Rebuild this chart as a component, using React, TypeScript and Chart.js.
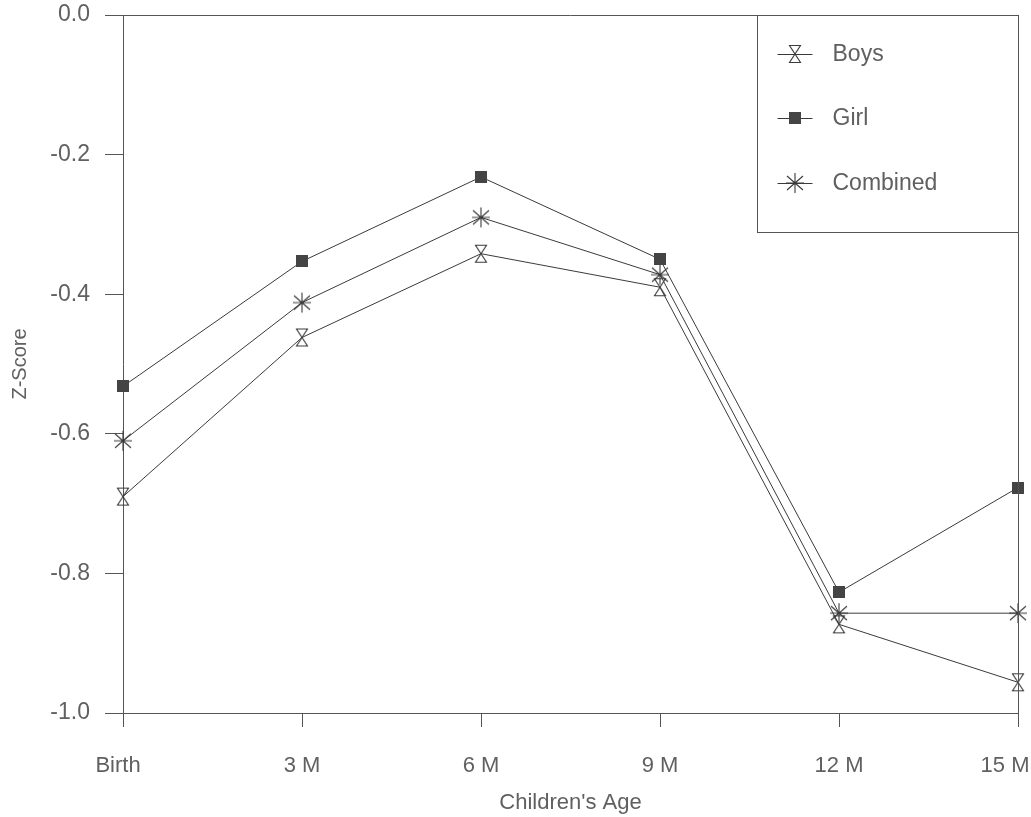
import React, { useEffect, useRef } from 'react';
import { Chart, registerables } from 'chart.js';

Chart.register(...registerables);

// ---- data ----
const ageLabels = ['Birth', '3 M', '6 M', '9 M', '12 M', '15 M'];
const boysZ = [-0.69, -0.462, -0.342, -0.39, -0.873, -0.956];
const girlZ = [-0.532, -0.353, -0.232, -0.35, -0.827, -0.677];
const combinedZ = [-0.61, -0.412, -0.29, -0.372, -0.857, -0.857];
const seriesNames = ['Boys', 'Girl', 'Combined'];
const yMin = -1.0;
const yMax = 0.0;
const yStep = 0.2;
const xTitle = "Children's Age";
const yTitle = 'Z-Score';

const INK = '#3a3a3a';
const AXIS = '#555';
const TEXT = '#606060';
const FONT = "'Liberation Sans', Arial, Helvetica, sans-serif";

function makeHourglass(): HTMLCanvasElement {
  const c = document.createElement('canvas');
  c.width = 14;
  c.height = 20;
  const g = c.getContext('2d')!;
  g.strokeStyle = INK;
  g.lineWidth = 1.1;
  g.beginPath();
  g.moveTo(1.5, 1.5);
  g.lineTo(12.5, 1.5);
  g.lineTo(7, 10);
  g.closePath();
  g.moveTo(7, 10);
  g.lineTo(1.5, 18.5);
  g.lineTo(12.5, 18.5);
  g.closePath();
  g.stroke();
  return c;
}

function makeAsterisk(): HTMLCanvasElement {
  const c = document.createElement('canvas');
  c.width = 20;
  c.height = 22;
  const g = c.getContext('2d')!;
  g.strokeStyle = INK;
  g.lineWidth = 1.1;
  g.beginPath();
  g.moveTo(10, 1);
  g.lineTo(10, 21);
  g.moveTo(2, 4);
  g.lineTo(18, 18);
  g.moveTo(18, 4);
  g.lineTo(2, 18);
  g.moveTo(1, 11);
  g.lineTo(19, 11);
  g.stroke();
  return c;
}

function makeSquare(): HTMLCanvasElement {
  const c = document.createElement('canvas');
  c.width = 12;
  c.height = 12;
  const g = c.getContext('2d')!;
  g.fillStyle = '#444';
  g.fillRect(0, 0, 12, 12);
  return c;
}

// keep the last x label inside the canvas, as in the reference
const lastLabelInside = {
  id: 'lastLabelInside',
  beforeDraw(chart: any) {
    const sx = chart.scales.x;
    const items = sx.getLabelItems(chart.chartArea);
    if (items && items.length) {
      const last = items[items.length - 1];
      last.options.translation = [last.options.translation[0] - 13, last.options.translation[1]];
      const first = items[0];
      first.options.translation = [first.options.translation[0] - 5, first.options.translation[1]];
    }
  },
};

const boxLegend = {
  id: 'boxLegend',
  afterDraw(chart: any) {
    const { ctx, chartArea } = chart;
    ctx.save();
    ctx.strokeStyle = AXIS;
    ctx.lineWidth = 1;
    ctx.beginPath();
    ctx.moveTo(chartArea.left, Math.round(chartArea.top) + 0.5);
    ctx.lineTo(chartArea.right, Math.round(chartArea.top) + 0.5);
    ctx.moveTo(Math.round(chartArea.right) + 0.5, chartArea.top);
    ctx.lineTo(Math.round(chartArea.right) + 0.5, chartArea.bottom);
    ctx.stroke();

    const bw = 261;
    const bh = 217;
    const bx = Math.round(chartArea.right) - bw + 0.5;
    const by = Math.round(chartArea.top) + 0.5;
    ctx.fillStyle = '#fff';
    ctx.fillRect(bx, by, bw, bh);
    ctx.strokeRect(bx, by, bw, bh);

    ctx.font = `23px ${FONT}`;
    ctx.textBaseline = 'middle';
    ctx.textAlign = 'left';
    chart.data.datasets.forEach((ds: any, i: number) => {
      const y = Math.round(by + 38 + i * 64.5);
      ctx.strokeStyle = INK;
      ctx.lineWidth = 1;
      ctx.beginPath();
      ctx.moveTo(bx + 20, y + 0.5);
      ctx.lineTo(bx + 55, y + 0.5);
      ctx.stroke();
      const img = ds.pointStyle as HTMLCanvasElement;
      ctx.drawImage(img, Math.round(bx + 37 - img.width / 2), Math.round(y - img.height / 2));
      ctx.fillStyle = TEXT;
      ctx.fillText(ds.label, bx + 75, y + 1);
    });
    ctx.restore();
  },
};

export default function App() {
  const ref = useRef<HTMLCanvasElement | null>(null);

  useEffect(() => {
    if (!ref.current) return;
    Chart.defaults.font.family = FONT;
    Chart.defaults.color = TEXT;
    const hour = makeHourglass();
    const sq = makeSquare();
    const ast = makeAsterisk();
    const common = {
      borderColor: INK,
      borderWidth: 1,
      pointRadius: 8,
      pointHoverRadius: 8,
      tension: 0,
      fill: false,
      clip: false as any,
    };
    const chart = new Chart(ref.current, {
      type: 'line',
      data: {
        labels: ageLabels,
        datasets: [
          { ...common, label: seriesNames[0], data: boysZ, pointStyle: hour as any },
          { ...common, label: seriesNames[1], data: girlZ, pointStyle: sq as any },
          { ...common, label: seriesNames[2], data: combinedZ, pointStyle: ast as any },
        ],
      },
      options: {
        responsive: false,
        animation: false,
        devicePixelRatio: 1,
        layout: { padding: { top: 15, right: 13, left: 0, bottom: 0 } },
        plugins: {
          legend: { display: false },
          tooltip: { enabled: false },
        },
        scales: {
          x: {
            type: 'category',
            offset: false,
            grid: {
              display: true,
              drawOnChartArea: false,
              drawTicks: true,
              tickLength: 14,
              color: AXIS,
            },
            border: { display: true, color: AXIS, width: 1 },
            ticks: {
              font: { size: 22 },
              color: TEXT,
              padding: 26,
              maxRotation: 0,
              autoSkip: false,
            },
            title: {
              display: true,
              text: xTitle,
              font: { size: 22 },
              color: TEXT,
              padding: { top: 0, bottom: 1 },
            },
            afterFit: (s: any) => {
              s.height = 104;
              s.paddingLeft = 0;
              s.paddingRight = 0;
            },
          },
          y: {
            min: yMin,
            max: yMax,
            grid: {
              display: true,
              drawOnChartArea: false,
              drawTicks: true,
              tickLength: 18,
              color: AXIS,
            },
            border: { display: true, color: AXIS, width: 1 },
            ticks: {
              stepSize: yStep,
              font: { size: 23 },
              color: TEXT,
              padding: 15,
              callback: (v: any) => Number(v).toFixed(1),
            },
            title: {
              display: true,
              text: yTitle,
              font: { size: 20 },
              color: TEXT,
              padding: { top: 8, bottom: 0 },
            },
            afterFit: (s: any) => {
              s.width = 123;
              s.paddingTop = 0;
              s.paddingBottom = 0;
            },
          },
        },
      },
      plugins: [lastLabelInside, boxLegend],
    });
    return () => chart.destroy();
  }, []);

  return (
    <div style={{ position: 'fixed', left: 0, top: 0, width: 1031, height: 817, background: '#fff' }}>
      <canvas ref={ref} width={1031} height={817} style={{ display: 'block' }} />
    </div>
  );
}
